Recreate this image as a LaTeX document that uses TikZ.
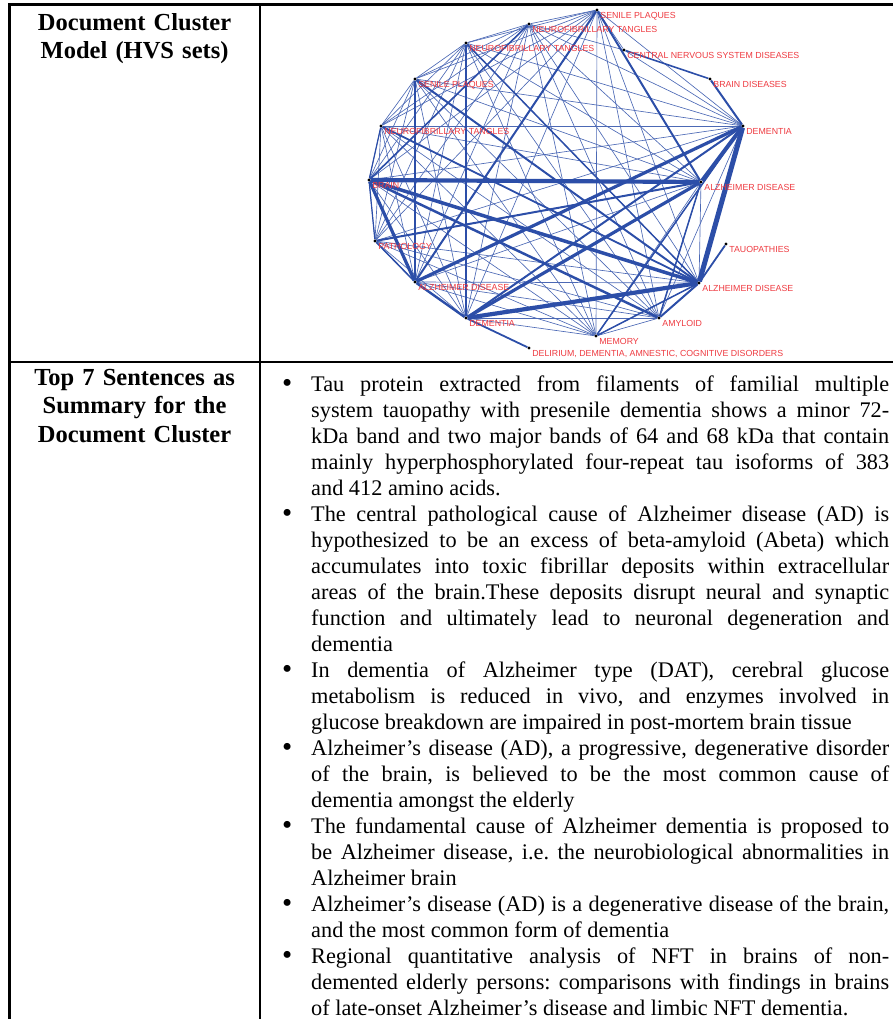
\documentclass[tikz,border=0pt]{standalone}
\usepackage{fontspec}
\usepackage{graphicx}
\setmainfont{Liberation Serif}
\newfontfamily\termfont{Liberation Sans}
\usetikzlibrary{backgrounds}

\definecolor{edgeblue}{RGB}{44,78,168}
\definecolor{termred}{RGB}{238,58,64}

\newcommand{\sentbullet}{\par\noindent\llap{\raisebox{-1.6pt}{\scalebox{1.3}{\textbullet}}\hspace{19pt}}}

\tikzset{
  grid/.style={line width=2.3pt},
  term/.style={circle, fill=black, inner sep=0pt, minimum size=3.2pt,
    label={[termlbl]below right:#1}},
  termlbl/.style={font=\termfont\fontsize{8.8}{9}\selectfont, text=termred,
    inner sep=0pt, label distance=0pt, xshift=1.9pt, yshift=-1.2pt},
  lnk/.style={draw=edgeblue!85, line width=0.65pt},
  colhead/.style={anchor=north, inner sep=0pt, text width=245pt, align=center,
    font=\bfseries\fontsize{24.5}{28.5}\selectfont},
  sentbox/.style={anchor=north west, inner sep=0pt, text width=578pt, align=justify,
    font=\fontsize{22.3}{26}\selectfont},
}

\begin{document}
\begin{tikzpicture}[x=1pt, y=-1pt]
    \useasboundingbox (0,0) rectangle (893,1019);

    % table rules
    \draw[grid] (8,4.5) -- (893,4.5);
    \draw[grid] (9.5,3.5) -- (9.5,1019);
    \draw[grid] (259.7,3.5) -- (259.7,1019);
    \draw[grid] (9.5,362) -- (893,362);

    \node[colhead] (hvs) at (134.6,10) {\rule{0pt}{20pt}Document Cluster\\Model (HVS sets)};
    \node[colhead] (top7) at (134.6,365) {\rule{0pt}{20pt}Top 7 Sentences as\\Summary for the\\Document Cluster};

    % cluster terms
    \node[term=SENILE PLAQUES] (sp1) at (597,10) {};
    \node[term=NEUROFIBRILLARY TANGLES] (nft1) at (529,24) {};
    \node[term=NEUROFIBRILLARY TANGLES] (nft2) at (466,43) {};
    \node[term=CENTRAL NERVOUS SYSTEM DISEASES] (cns) at (624,50) {};
    \node[term=BRAIN DISEASES] (bd) at (710,79) {};
    \node[term=SENILE PLAQUES] (sp2) at (415,79) {};
    \node[term=NEUROFIBRILLARY TANGLES] (nft3) at (381,126) {};
    \node[term=DEMENTIA] (dem1) at (743,126) {};
    \node[term=BRAIN] (brain) at (369,180) {};
    \node[term=ALZHEIMER DISEASE] (ad1) at (701,182) {};
    \node[term=PATHOLOGY] (path) at (375,241) {};
    \node[term=TAUOPATHIES] (tau) at (726,244) {};
    \node[term=ALZHEIMER DISEASE] (ad2) at (415,282) {};
    \node[term=ALZHEIMER DISEASE] (ad3) at (699,283) {};
    \node[term=DEMENTIA] (dem2) at (466,318) {};
    \node[term=AMYLOID] (amy) at (659,318) {};
    \node[term=MEMORY] (mem) at (596,336) {};
    \node[term={DELIRIUM, DEMENTIA, AMNESTIC, COGNITIVE DISORDERS}] (del) at (529,348) {};

    \begin{scope}[on background layer]
      \foreach \a [count=\i] in {sp1,nft1,nft2,sp2,nft3,brain,path,ad2,dem2,mem,amy,ad3,ad1,dem1}
        \foreach \b [count=\j] in {sp1,nft1,nft2,sp2,nft3,brain,path,ad2,dem2,mem,amy,ad3,ad1,dem1}
          {\ifnum\j>\i \draw[lnk] (\a) -- (\b); \fi}
      \foreach \a/\b in {sp1/cns, cns/dem1, nft1/cns}
        \draw[lnk] (\a) -- (\b);
      % heavier links
      \foreach \a/\b/\t in {brain/ad1/4.2, brain/ad3/3.5, dem1/ad3/5, dem1/ad1/4,
          ad2/dem1/3.2, dem2/ad1/3.2, dem2/ad3/4.2, brain/ad2/3.2, ad2/dem2/2.4,
          sp2/ad2/2.4, brain/amy/2.5, sp1/ad2/2, sp2/ad3/2, nft3/ad3/1.8,
          path/ad1/2, sp1/ad1/2, dem1/dem2/2, ad3/amy/2, ad1/amy/1.5,
          ad3/mem/1.5, dem1/mem/1.5, brain/path/1.2, brain/nft3/1.2,
          path/ad2/1.5, nft2/dem2/1.2, nft1/brain/1.6, nft2/ad3/1.5,
          cns/bd/1.6, bd/dem1/2, tau/ad3/1.8, del/dem2/1.8}
        \draw[edgeblue, line width=\t pt] (\a) -- (\b);
    \end{scope}

    \node[sentbox] (sents) at (311,365) {\frenchspacing\tolerance=9999\hbadness=10000
      \sentbullet\rule{0pt}{20pt}Tau protein extracted from filaments of familial multiple\linebreak
      system tauopathy with presenile dementia shows a minor 72-\linebreak
      kDa band and two major bands of 64 and 68 kDa that contain\linebreak
      mainly hyperphosphorylated four-repeat tau isoforms of 383\linebreak
      and 412 amino acids.
      \sentbullet The central pathological cause of Alzheimer disease (AD) is\linebreak
      hypothesized to be an excess of beta-amyloid (Abeta) which\linebreak
      accumulates into toxic fibrillar deposits within extracellular\linebreak
      areas of the brain.These deposits disrupt neural and synaptic\linebreak
      function and ultimately lead to neuronal degeneration and\linebreak
      dementia
      \sentbullet In dementia of Alzheimer type (DAT), cerebral glucose\linebreak
      metabolism is reduced in vivo, and enzymes involved in\linebreak
      glucose breakdown are impaired in post-mortem brain tissue
      \sentbullet Alzheimer's disease (AD), a progressive, degenerative disorder\linebreak
      of the brain, is believed to be the most common cause of\linebreak
      dementia amongst the elderly
      \sentbullet The fundamental cause of Alzheimer dementia is proposed to\linebreak
      be Alzheimer disease, i.e. the neurobiological abnormalities in\linebreak
      Alzheimer brain
      \sentbullet Alzheimer's disease (AD) is a degenerative disease of the brain,\linebreak
      and the most common form of dementia
      \sentbullet Regional quantitative analysis of NFT in brains of non-\linebreak
      demented elderly persons: comparisons with findings in brains\linebreak
      of late-onset Alzheimer's disease and limbic NFT dementia.\par};
\end{tikzpicture}
\end{document}
